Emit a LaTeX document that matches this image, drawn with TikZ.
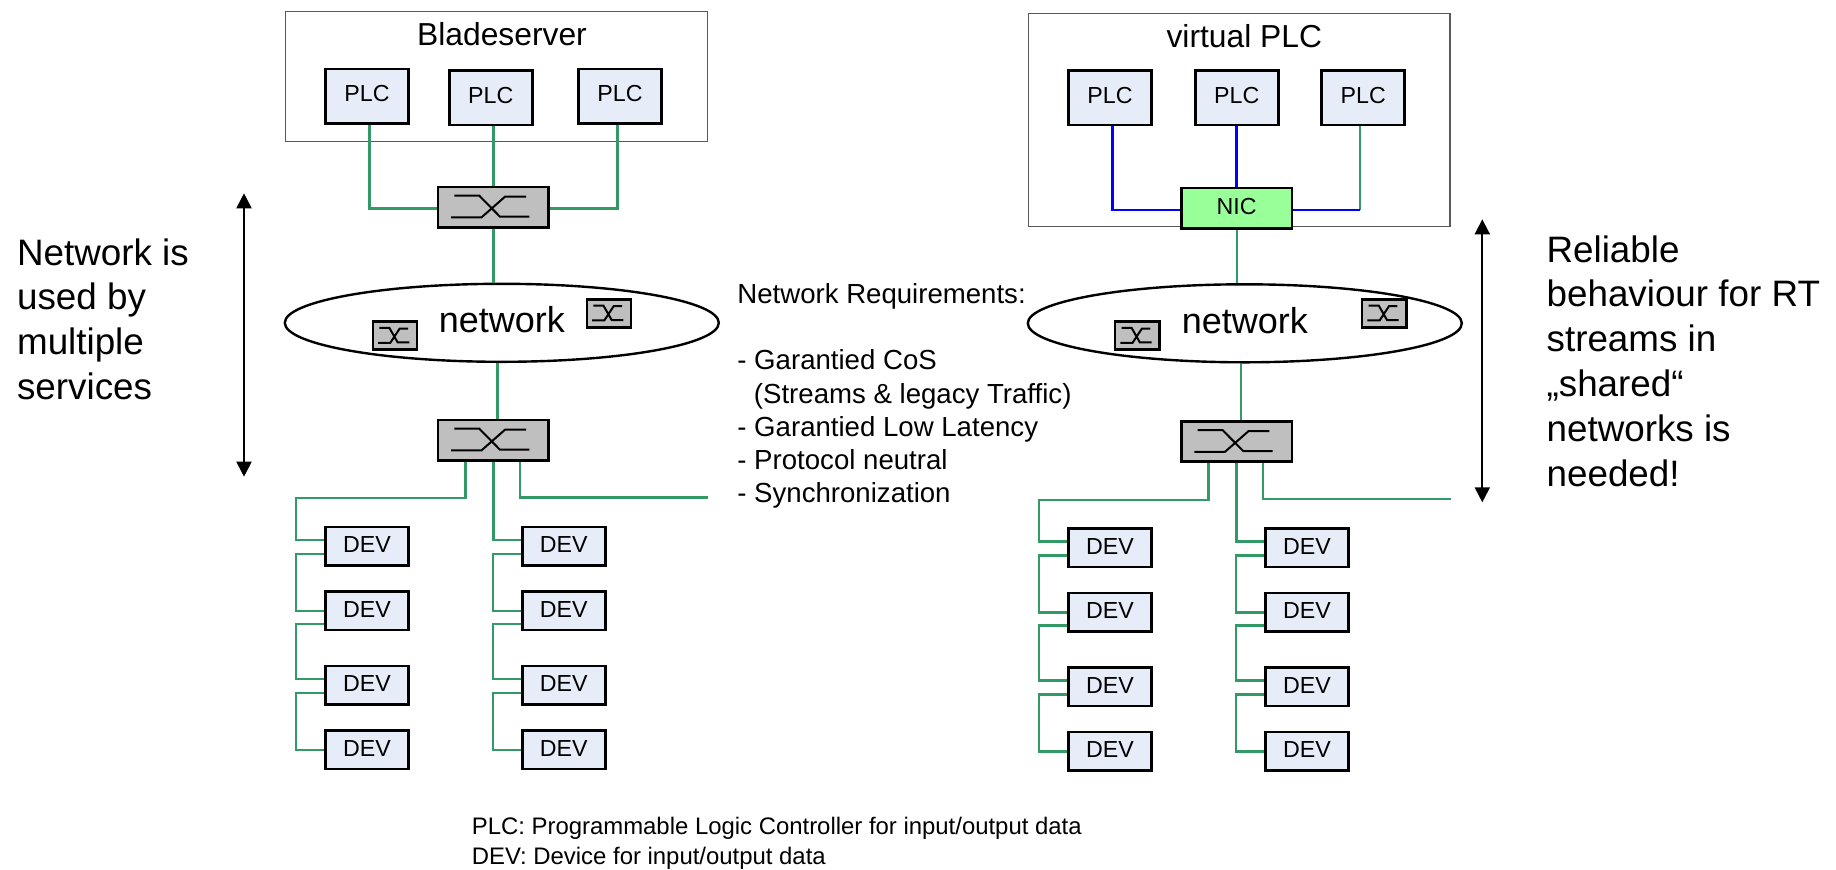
\documentclass[tikz,border=0pt]{standalone}
\usepackage{fontspec}
\setmainfont{Liberation Sans}
\usepackage{tikz}
\usetikzlibrary{positioning,calc,shapes,shapes.geometric,arrows.meta}
\definecolor{linkgreen}{HTML}{339966}
\definecolor{boxblue}{HTML}{E7EDF8}
\definecolor{nicgreen}{HTML}{99FF99}
\definecolor{swgray}{HTML}{BFBFBF}
\tikzset{
	hostbox/.style={draw=black!65, line width=0.55pt, inner sep=0pt},
	unitbox/.style={draw, fill=boxblue, line width=1.3pt, inner sep=0pt, font=\fontsize{11.6}{14}\selectfont},
	netnode/.style={draw, ellipse, fill=white, line width=1.2pt, inner sep=0pt, minimum width=217pt, minimum height=39pt, text height=12.5pt, text depth=2.8pt, font=\fontsize{18}{20}\selectfont},
	link/.style={draw=linkgreen, line width=1.25pt},
	thinlink/.style={draw=linkgreen, line width=1pt},
	bluelink/.style={draw=blue, line width=1.35pt},
	span/.style={draw, line width=0.95pt, {Triangle[length=7.5pt,width=7.5pt]}-{Triangle[length=7.5pt,width=7.5pt]}},
	sidetext/.style={inner sep=0pt, align=left, font=\fontsize{18.4}{22.4}\selectfont},
	midtext/.style={inner sep=0pt, align=left, font=\fontsize{13.8}{16.6}\selectfont},
	foottext/.style={inner sep=0pt, align=left, font=\fontsize{11.95}{14.65}\selectfont}
}
\newcommand{\plcnode}[3][]{
	\node [unitbox, minimum width=41.5pt, minimum height=27.3pt, text height=8.5pt, text depth=3pt] (#1) at (#2, #3) {PLC};
}
\newcommand{\devnode}[3][]{
	\node [unitbox, minimum width=41.5pt, minimum height=19.2pt, text height=8.5pt, text depth=2pt] (#1) at (#2, #3) {DEV};
}
\newcommand{\myswitch}[5][]{
	\node [draw, fill=swgray, line width=1.3pt, inner sep=0pt, minimum width=#4*55.4pt, minimum height=#5*20.2pt] (#1) at (#2, #3) {};
	\draw [line width=1pt, shift={(#2, #3)}, xscale=#4, yscale=#5]
		(-39,-11.3) -- (-14,-11.3) -- (6.7,9.7) -- (36,9.7)
		(-42.3,10.3) -- (-11.7,10.3) -- (11.7,-10.3) -- (32.7,-10.3);
}
% from one box down the bus to the next one
\newcommand{\chainlink}[4]{
	\path [link] ($(#1.west)+(0,#3)$) -- ++(-28,0) |- ($(#2.west)+(0,#4)$);
}
\begin{document}
\begin{tikzpicture}[x=0.5pt, y=-0.5pt]
		\useasboundingbox (0,0) rectangle (1836,869);
		\node [hostbox, minimum width=211pt, minimum height=64.8pt] (blade) at (496.3, 76.5) {};
		\node [hostbox, minimum width=210.8pt, minimum height=106.7pt] (virt) at (1239.2, 120) {};
		\node [inner sep=0pt, anchor=base, font=\fontsize{15.9}{18}\selectfont] (bladetitle) at (502, 45.7) {Bladeserver};
		\node [inner sep=0pt, anchor=base, font=\fontsize{15.9}{18}\selectfont] (virttitle) at (1244.3, 47.7) {virtual PLC};
		\plcnode[Pa]{367}{96.2}
		\plcnode[Pb]{490.8}{97.7}
		\plcnode[Pc]{620}{96.2}
		\plcnode[Pd]{1110}{97.7}
		\plcnode[Pe]{1236.7}{97.7}
		\plcnode[Pf]{1363.2}{97.7}
		\devnode[Da]{367}{546.2}
		\devnode[Db]{367}{610.8}
		\devnode[Dc]{367}{685}
		\devnode[Dd]{367}{749.8}
		\devnode[Ea]{563.7}{546.2}
		\devnode[Eb]{563.7}{610.8}
		\devnode[Ec]{563.7}{685}
		\devnode[Ed]{563.7}{749.8}
		\devnode[Fa]{1110}{547.7}
		\devnode[Fb]{1110}{612.3}
		\devnode[Fc]{1110}{686.7}
		\devnode[Fd]{1110}{751.3}
		\devnode[Ga]{1307}{547.7}
		\devnode[Gb]{1307}{612.3}
		\devnode[Gc]{1307}{686.7}
		\devnode[Gd]{1307}{751.3}
		\node [netnode] (netA) at (501.8, 322.8) {network};
		\node [netnode] (netB) at (1244.8, 323.3) {network};
		\myswitch[swA]{493.3}{207}{1}{1}
		\myswitch[swB]{493.3}{440}{1}{1}
		\myswitch[swC]{1236.7}{441.5}{1}{1}
		\myswitch[smA]{395}{335.7}{.4}{.69}
		\myswitch[smB]{609}{313.3}{.4}{.69}
		\myswitch[smC]{1137.2}{335.7}{.4}{.69}
		\myswitch[smD]{1384.3}{313.3}{.4}{.69}
		\node [draw, fill=nicgreen, line width=1.3pt, inner sep=0pt, minimum width=55.4pt, minimum height=20.2pt, text height=8.5pt, text depth=2pt, font=\fontsize{11.6}{14}\selectfont] (nic) at (1236.7, 208.3) {NIC};
		%	left side
		\path [link] ($(Pa.south)+(2.3,0)$) |- ($(swA.west)+(0,1.3)$);
		\path [link] ($(Pb.south)+(2.5,0)$) -- (swA.north);
		\path [link] ($(Pc.south)+(-2.7,0)$) |- ($(swA.east)+(0,1.3)$);
		\path [link] (swA.south) -- (swA.south |- netA.north);
		\coordinate (upA) at ($(swB.north)+(4,0)$);
		\path [link] (upA) -- (upA |- netA.south);
		\coordinate (outA) at ($(swB.south)+(-27.6,0)$);
		\coordinate (busA) at ($(Da.west)+(-28,-6)$);
		\coordinate (outB) at ($(swB.south)+(26.7,0)$);
		\coordinate (endA) at (708, 497.3);
		\path [link] (outA) -- ($(outA)+(0,36.6)$) -| (busA) -- ($(Da.west)+(0,-6)$);
		\path [link] (swB.south) |- ($(Ea.west)+(0,-6)$);
		\path [link] (outB) |- (endA);
		\chainlink{Da}{Db}{8}{0}
		\chainlink{Db}{Dc}{13}{-6}
		\chainlink{Dc}{Dd}{8}{0}
		\chainlink{Ea}{Eb}{8}{0}
		\chainlink{Eb}{Ec}{13}{-6}
		\chainlink{Ec}{Ed}{8}{0}
		%	right side
		\path [bluelink] ($(Pd.south)+(2.3,0)$) |- ($(nic.west)+(0,1.7)$);
		\path [bluelink] (Pe.south) -- (nic.north);
		\coordinate (nicout) at ($(nic.east)+(0,1.7)$);
		\coordinate (plcout) at ($(Pf.south)+(-3.2,0)$);
		\path [thinlink] (plcout) -- (plcout |- nicout);
		\path [bluelink] (plcout |- nicout) -- (nicout);
		\path [thinlink] (nic.south) -- (nic.south |- netB.north);
		\coordinate (upB) at ($(swC.north)+(4,0)$);
		\path [thinlink] (upB) -- (upB |- netB.south);
		\coordinate (outC) at ($(swC.south)+(-28,0)$);
		\coordinate (busB) at ($(Fa.west)+(-28,-6)$);
		\coordinate (outD) at ($(swC.south)+(26.3,0)$);
		\coordinate (endB) at (1450.7, 499);
		\path [link] (outC) -- ($(outC)+(0,37)$) -| (busB) -- ($(Fa.west)+(0,-6)$);
		\path [link] (swC.south) |- ($(Ga.west)+(0,-6)$);
		\path [link] (outD) |- (endB);
		\chainlink{Fa}{Fb}{8}{0}
		\chainlink{Fb}{Fc}{13}{-6}
		\chainlink{Fc}{Fd}{8}{0}
		\chainlink{Ga}{Gb}{8}{0}
		\chainlink{Gb}{Gc}{13}{-6}
		\chainlink{Gc}{Gd}{8}{0}
		%	arrows and texts
		\coordinate (spanAtop) at (244, 193.3);
		\coordinate (spanAbot) at (244, 476.7);
		\coordinate (spanBtop) at (1482.3, 219.3);
		\coordinate (spanBbot) at (1482.3, 502.3);
		\path [span] (spanAtop) -- (spanAbot);
		\path [span] (spanBtop) -- (spanBbot);
		\node [sidetext, anchor=north west] (usedtext) at (16.7, 238) {Network is\\used by\\multiple\\services};
		\node [sidetext, anchor=north west] (reliabletext) at (1546.2, 235) {Reliable\\behaviour for RT\\streams in\\„shared“\\networks is\\needed!};
		\node [midtext, anchor=north west] (reqtext) at (737, 283) {Network Requirements:\\[16.6pt]- Garantied CoS\\\hspace*{0.6em}(Streams \& legacy Traffic)\\- Garantied Low Latency\\- Protocol neutral\\- Synchronization};
		\node [foottext, anchor=north west] (legend) at (471.5, 817) {PLC: Programmable Logic Controller for input/output data\\DEV: Device for input/output data};
		\end{tikzpicture}
\end{document}
